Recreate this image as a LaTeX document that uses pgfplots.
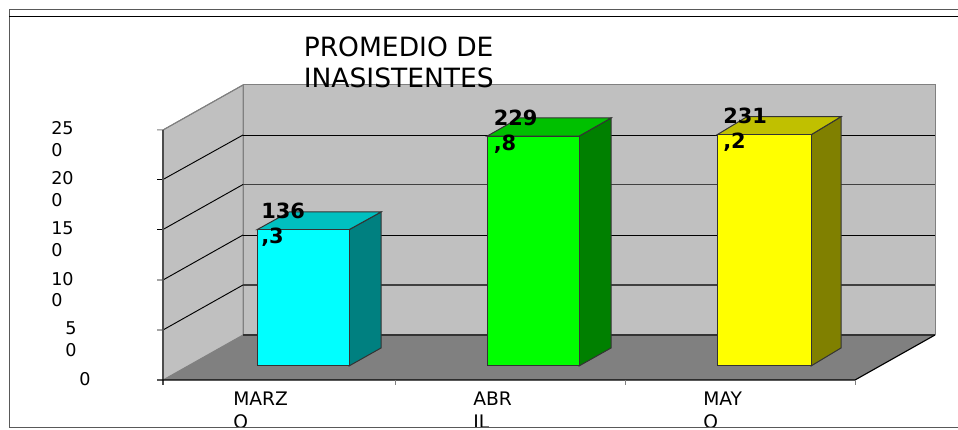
\documentclass[border=0pt]{standalone}
\usepackage{pgfplots}
\pgfplotsset{compat=1.18}
\usepackage{fontspec}
\setmainfont{DejaVu Sans}
\definecolor{wall}{HTML}{C0C0C0}
\definecolor{floorc}{HTML}{808080}
\definecolor{edge}{HTML}{808080}
\begin{document}
\begin{tikzpicture}
\begin{axis}[
  x=0.75pt,y=0.75pt,
  xmin=0,xmax=958,ymin=-63,ymax=366,
  hide axis,clip=true,
  every axis plot/.append style={line join=miter},
]
% page background
\addplot[fill=white,draw=none] coordinates {(0,-63)(958,-63)(958,366)(0,366)} -- cycle;
% walls and floor
\addplot[fill=wall,draw=edge,line width=0.75pt] coordinates {(163,-14)(243,31)(243,281)(163,236)} -- cycle;
\addplot[fill=wall,draw=edge,line width=0.75pt] coordinates {(243,31)(935,31)(935,281)(243,281)} -- cycle;
\addplot[fill=floorc,draw=none] coordinates {(163,-14)(243,31)(935,31)(855,-14)} -- cycle;
% back gridlines
\addplot[black!80,line width=0.85pt] coordinates {(243,31)(935,31)};
\addplot[black!75,line width=0.85pt] coordinates {(243,81)(935,81)};
\addplot[black,line width=0.7pt] coordinates {(243,131)(935,131)};
\addplot[black!75,line width=0.8pt] coordinates {(243,181.5)(935,181.5)};
\addplot[black,line width=0.7pt] coordinates {(243,231)(935,231)};
% left wall gridlines with ticks
\addplot[black,line width=0.7pt] coordinates {(157,36)(163,36)(243,81)};
\addplot[black,line width=0.7pt] coordinates {(157,86)(163,86)(243,131)};
\addplot[black,line width=0.7pt] coordinates {(157,136.5)(163,136.5)(243,181.5)};
\addplot[black,line width=0.7pt] coordinates {(157,186.5)(163,186.5)(243,231)};
\addplot[edge,line width=0.75pt] coordinates {(157,236)(163,236)(243,281)};
% axis lines
\addplot[black!70,line width=0.9pt] coordinates {(163,-19)(163,236)};
\addplot[black,line width=0.85pt] coordinates {(157,-14)(855,-14)(935,31)};
\addplot[edge,line width=0.75pt] coordinates {(395,-14)(395,-19)};
\addplot[edge,line width=0.75pt] coordinates {(625,-14)(625,-19)};
\addplot[edge,line width=0.75pt] coordinates {(855,-14)(855,-19)};
% MARZO
\addplot[fill={rgb,255:red,0;green,128;blue,128},draw=black!80,line width=0.75pt] coordinates {(349,0)(381,18)(381,154)(349,136.3)} -- cycle;
\addplot[fill={rgb,255:red,0;green,192;blue,192},draw=black!80,line width=0.75pt] coordinates {(257,136.3)(349,136.3)(381,154)(289,154)} -- cycle;
\addplot[ybar,bar shift=0pt,bar width=92,fill={rgb,255:red,0;green,255;blue,255},draw=black!80,line width=0.75pt] coordinates {(303,136.3)};
% ABRIL
\addplot[fill={rgb,255:red,0;green,128;blue,0},draw=black!80,line width=0.75pt] coordinates {(579,0)(611,18)(611,248)(579,229.8)} -- cycle;
\addplot[fill={rgb,255:red,0;green,192;blue,0},draw=black!80,line width=0.75pt] coordinates {(487,229.8)(579,229.8)(611,248)(519,248)} -- cycle;
\addplot[ybar,bar shift=0pt,bar width=92,fill={rgb,255:red,0;green,255;blue,0},draw=black!80,line width=0.75pt] coordinates {(533,229.8)};
% MAYO
\addplot[fill={rgb,255:red,128;green,128;blue,0},draw=black!80,line width=0.75pt] coordinates {(811,0)(841,18)(841,249.3)(811,231.2)} -- cycle;
\addplot[fill={rgb,255:red,192;green,192;blue,0},draw=black!80,line width=0.75pt] coordinates {(717,231.2)(811,231.2)(841,249.3)(747,249.3)} -- cycle;
\addplot[ybar,bar shift=0pt,bar width=94,fill={rgb,255:red,255;green,255;blue,0},draw=black!80,line width=0.75pt] coordinates {(764,231.2)};
% y tick labels (wrapped as in the reference)
\newcommand{\tl}[3]{\node[anchor=base west,inner sep=0pt,font=\fontsize{13.2pt}{13.2pt}\selectfont] at (axis cs:#1,#2) {#3};}
\newcommand{\cl}[3]{\node[anchor=base west,inner sep=0pt,font=\fontsize{14pt}{14pt}\selectfont] at (axis cs:#1,#2) {#3};}
\tl{51}{231}{25}\tl{51}{209}{0}
\tl{51}{181}{20}\tl{51}{159}{0}
\tl{51}{131}{15}\tl{51}{109}{0}
\tl{51}{80}{10}\tl{51}{59}{0}
\tl{65}{31}{5}\tl{65}{9}{0}
\tl{79}{-19}{0}
% category labels
\cl{233}{-40}{MARZ}\cl{233}{-62}{O}
\cl{473}{-40}{ABR}\cl{473}{-62}{IL}
\cl{703}{-40}{MAY}\cl{703}{-62}{O}
% value labels
\newcommand{\vl}[3]{\node[anchor=base west,inner sep=0pt,font=\fontsize{15.7pt}{15.7pt}\selectfont\bfseries] at (axis cs:#1,#2) {#3};}
\vl{261}{147}{136}\vl{261}{122}{,3}
\vl{493.5}{240}{229}\vl{493.5}{215}{,8}
\vl{723}{242}{231}\vl{723}{217}{,2}
% title
\newcommand{\ttl}[3]{\node[anchor=base west,inner sep=0pt,font=\fontsize{19.9pt}{19.9pt}\selectfont] at (axis cs:#1,#2) {#3};}
\ttl{303.5}{309}{PROMEDIO DE}
\ttl{303.5}{278.5}{INASISTENTES}
% frame
\addplot[fill=white,draw=none] coordinates {(0,-63)(958,-63)(958,-61)(0,-61)} -- cycle;
\addplot[black!65,line width=0.75pt] coordinates {(958,356)(9,356)(9,-61)(958,-61)};
\addplot[black,line width=0.75pt] coordinates {(9,349)(958,349)};
\end{axis}
\end{tikzpicture}
\end{document}
